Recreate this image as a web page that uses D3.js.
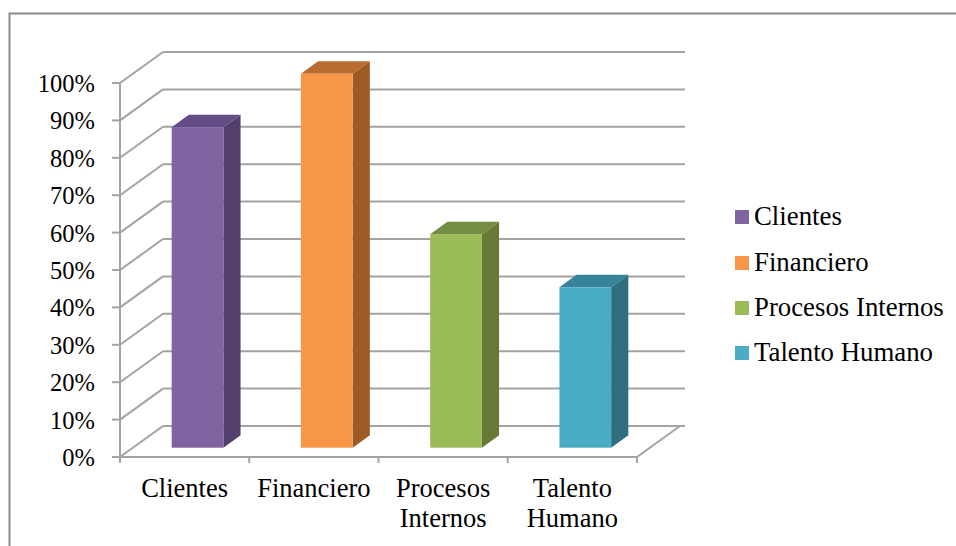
<!DOCTYPE html>
<html>
<head>
<meta charset="utf-8">
<script src="https://cdn.jsdelivr.net/npm/d3@7"></script>
<style>
  html, body { margin: 0; padding: 0; background: #fff; }
  svg { display: block; }
  text { font-family: "Liberation Serif", "Times New Roman", serif; fill: #000; }
</style>
</head>
<body>
<script>
// Categories and their shares
const categories = ["Clientes", "Financiero", "Procesos Internos", "Talento Humano"];
const categoryLines = [["Clientes"], ["Financiero"], ["Procesos", "Internos"], ["Talento", "Humano"]];
const values = [0.857, 1.0, 0.571, 0.429];
const yTicks = [0, 0.1, 0.2, 0.3, 0.4, 0.5, 0.6, 0.7, 0.8, 0.9, 1.0];
const frontColors = ["#8064A2", "#F79646", "#9BBB59", "#4BACC6"];
const sideColors  = ["#523F6B", "#9C5A27", "#667A36", "#2E6E7F"];
const topColors   = ["#634D85", "#B86C30", "#758D43", "#37839A"];

const W = 956, H = 546;
const svg = d3.select("body").append("svg").attr("width", W).attr("height", H);

// Outer frame (top and left edges visible)
svg.append("path")
  .attr("d", "M9.5,546 L9.5,13.5 L956,13.5")
  .attr("fill", "none").attr("stroke", "#8a8a8a").attr("stroke-width", 2);

// Front plane scales; depth vector gives the oblique 3D offset
const x = d3.scaleBand().domain(categories).range([120, 637]).paddingInner(0).paddingOuter(0);
const y = d3.scaleLinear().domain([0, 1]).range([457, 83]);
const depth = { dx: 43, dy: -31 };
const off = t => [t * depth.dx, t * depth.dy];

const gridColor = "#a3a3a3";
const grid = svg.append("g").attr("stroke", gridColor).attr("stroke-width", 2).attr("fill", "none");

// Back wall horizontal gridlines
grid.selectAll("line.back").data(yTicks).join("line")
  .attr("x1", x.range()[0] + depth.dx).attr("x2", x.range()[1] + depth.dx + 5)
  .attr("y1", d => y(d) + depth.dy).attr("y2", d => y(d) + depth.dy);

// Side wall diagonals
grid.selectAll("line.side").data(yTicks).join("line")
  .attr("x1", x.range()[0]).attr("y1", d => y(d))
  .attr("x2", x.range()[0] + depth.dx).attr("y2", d => y(d) + depth.dy);

// Floor: front edge and right edge
grid.append("line")
  .attr("x1", x.range()[0]).attr("x2", x.range()[1])
  .attr("y1", y(0)).attr("y2", y(0));
grid.append("line")
  .attr("x1", x.range()[1]).attr("y1", y(0))
  .attr("x2", x.range()[1] + depth.dx).attr("y2", y(0) + depth.dy);

// Value axis line and ticks
grid.append("line")
  .attr("x1", x.range()[0]).attr("x2", x.range()[0])
  .attr("y1", y(1)).attr("y2", y(0) + 6);
grid.selectAll("line.ytick").data(yTicks).join("line")
  .attr("x1", x.range()[0] - 8).attr("x2", x.range()[0])
  .attr("y1", d => y(d)).attr("y2", d => y(d));

// Category ticks
const catEdges = categories.map(c => x(c)).concat([x.range()[1]]);
grid.selectAll("line.xtick").data(catEdges).join("line")
  .attr("x1", d => d).attr("x2", d => d)
  .attr("y1", y(0)).attr("y2", y(0) + 6);

// 3D bars: front face at 30% depth, bar depth 40%
const bw = x.bandwidth() * 0.4;
const [fx, fy] = off(0.3);
const [bx, by] = off(0.4);
const bars = svg.append("g").selectAll("g").data(categories).join("g");
bars.each(function (c, i) {
  const g = d3.select(this);
  const x0 = x(c) + (x.bandwidth() - bw) / 2 + fx;
  const x1 = x0 + bw;
  const yb = y(0) + fy;
  const yt = y(values[i]) + fy;
  // side face
  g.append("path")
    .attr("d", `M${x1},${yb} L${x1 + bx},${yb + by} L${x1 + bx},${yt + by} L${x1},${yt} Z`)
    .attr("fill", sideColors[i]);
  // top face
  g.append("path")
    .attr("d", `M${x0},${yt} L${x0 + bx},${yt + by} L${x1 + bx},${yt + by} L${x1},${yt} Z`)
    .attr("fill", topColors[i]);
  // front face
  g.append("rect")
    .attr("x", x0).attr("y", yt).attr("width", bw).attr("height", yb - yt)
    .attr("fill", frontColors[i]);
});

// Value axis labels
const fmt = d3.format(".0%");
svg.append("g").selectAll("text").data(yTicks).join("text")
  .attr("x", 95).attr("y", d => y(d) + 9)
  .attr("text-anchor", "end").attr("font-size", 24.5)
  .text(d => fmt(d));

// Category labels
const catG = svg.append("g").selectAll("text").data(categories).join("text")
  .attr("text-anchor", "middle").attr("font-size", 26.5)
  .attr("x", c => x(c) + x.bandwidth() / 2).attr("y", 497);
catG.each(function (c, i) {
  const t = d3.select(this);
  categoryLines[i].forEach((line, k) => {
    t.append("tspan").attr("x", x(c) + x.bandwidth() / 2).attr("dy", k === 0 ? 0 : 30).text(line);
  });
});

// Legend
const legend = svg.append("g").attr("transform", "translate(735,0)");
const legendY = [225, 271, 316, 361];
legend.selectAll("rect").data(categories).join("rect")
  .attr("x", 0).attr("y", (d, i) => legendY[i] - 15).attr("width", 14).attr("height", 14)
  .attr("fill", (d, i) => frontColors[i]);
legend.selectAll("text").data(categories).join("text")
  .attr("x", 19).attr("y", (d, i) => legendY[i]).attr("font-size", 26.8)
  .text(d => d);
</script>
</body>
</html>
